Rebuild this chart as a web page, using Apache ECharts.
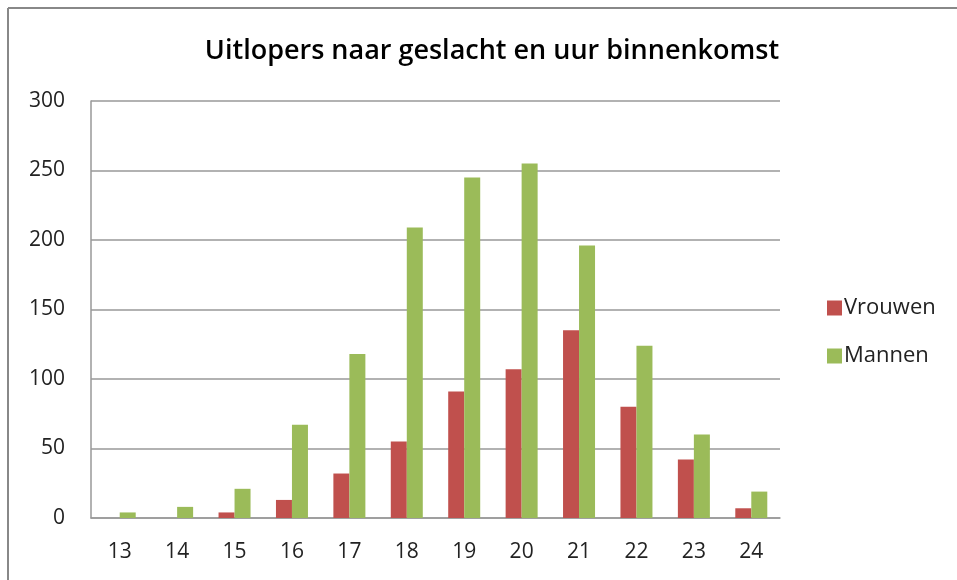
<!DOCTYPE html>
<html>
<head>
<meta charset="utf-8">
<script src="https://cdn.jsdelivr.net/npm/echarts@6/dist/echarts.min.js"></script>
<style>html,body{margin:0;padding:0;background:#fff}#c{width:957px;height:580px}</style>
</head>
<body>
<div id="c"></div>
<script>
const categories = ['13','14','15','16','17','18','19','20','21','22','23','24'];
const vrouwen = [0, 0, 4, 13, 32, 55, 91, 107, 135, 80, 42, 7];
const mannen = [4, 8, 21, 67, 118, 209, 245, 255, 196, 124, 60, 19];
const seriesNames = ['Vrouwen', 'Mannen'];
const titleText = 'Uitlopers naar geslacht en uur binnenkomst';

const font = '"Open Sans", "Noto Sans", sans-serif';
const chart = echarts.init(document.getElementById('c'), null, {renderer: 'canvas'});
chart.setOption({
  animation: false,
  backgroundColor: '#fff',
  title: {
    text: titleText, left: 487, top: 33, textAlign: 'center',
    textStyle: {fontFamily: font, fontSize: 27, fontWeight: 600, color: '#000'}
  },
  legend: {
    orient: 'vertical', left: 822, top: 292, itemGap: 26,
    itemWidth: 15, itemHeight: 15, icon: 'rect',
    textStyle: {fontFamily: font, fontSize: 22, color: '#222', padding: [0,0,0,-3]},
    data: seriesNames
  },
  grid: {left: 91, right: 177, top: 101, bottom: 62, containLabel: false},
  xAxis: {
    type: 'category', data: categories,
    axisLine: {lineStyle: {color: '#999', width: 1.5}},
    axisTick: {show: false},
    axisLabel: {fontFamily: font, fontSize: 21, color: '#222', margin: 24}
  },
  yAxis: {
    type: 'value', min: 0, max: 300, interval: 50,
    axisLine: {show: true, lineStyle: {color: '#999', width: 1.5}},
    axisTick: {show: false},
    splitLine: {lineStyle: {color: '#999', width: 1.5}},
    axisLabel: {fontFamily: font, fontSize: 21, color: '#222', margin: 26}
  },
  graphic: [
    {type: 'line', shape: {x1: 8, y1: 8, x2: 957, y2: 8}, style: {stroke: '#888', lineWidth: 2}},
    {type: 'line', shape: {x1: 8, y1: 8, x2: 8, y2: 580}, style: {stroke: '#888', lineWidth: 2}}
  ],
  series: [
    {name: seriesNames[0], type: 'bar', data: vrouwen, barWidth: 16, barGap: '0%',
     itemStyle: {color: '#C0504D'}},
    {name: seriesNames[1], type: 'bar', data: mannen, barWidth: 16, barGap: '0%',
     itemStyle: {color: '#9BBB59'}}
  ]
});
</script>
</body>
</html>
